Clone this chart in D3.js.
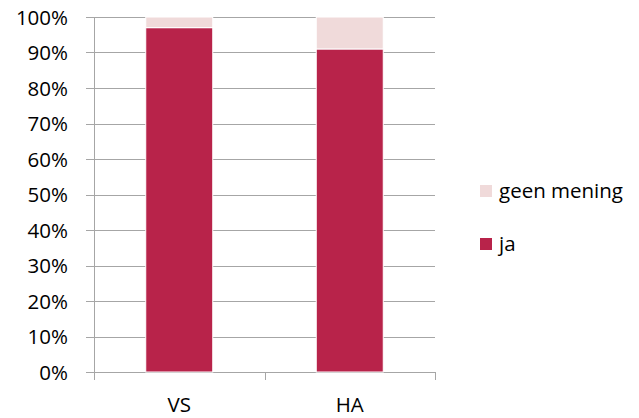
<!DOCTYPE html>
<html><head><meta charset="utf-8">
<script src="https://cdn.jsdelivr.net/npm/d3@7"></script>
<style>body{margin:0;background:#fff}svg{display:block}text{font-family:"Open Sans",sans-serif;fill:#000}</style>
</head><body><svg id="c" width="639" height="418"></svg>
<script>
const categories = ["VS", "HA"];
const ja = [97, 91];
const geenMening = [3, 9];
const yTicks = [0, 10, 20, 30, 40, 50, 60, 70, 80, 90, 100];
const seriesNames = ["ja", "geen mening"];
const colors = {"ja": "#B8234A", "geen mening": "#F0DADA"};

const svg = d3.select("#c");
const pLeft = 94, pRight = 435, pTop = 17, pBottom = 372;
const fs = 20.5;
const x = d3.scaleBand().domain(categories).range([pLeft, pRight]).paddingInner(0.607).paddingOuter(0.3035);
const y = d3.scaleLinear().domain([0, 100]).range([pBottom, pTop]);

// gridlines
svg.append("g").selectAll("line").data(yTicks).join("line")
  .attr("x1", pLeft - 8).attr("x2", pRight)
  .attr("y1", d => Math.round(y(d)) + 0.5).attr("y2", d => Math.round(y(d)) + 0.5)
  .attr("stroke", "#A6A6A6").attr("stroke-width", 1);

svg.append("g").selectAll("text").data(yTicks).join("text")
  .attr("x", 68).attr("y", d => y(d) + 7.5)
  .attr("text-anchor", "end").attr("font-size", fs)
  .text(d => d + "%");

// x axis vertical ticks
const edges = [pLeft, (pLeft + pRight) / 2, pRight];
svg.append("g").selectAll("line").data(edges).join("line")
  .attr("x1", d => Math.round(d) + 0.5).attr("x2", d => Math.round(d) + 0.5)
  .attr("y1", pBottom).attr("y2", pBottom + 8)
  .attr("stroke", "#A6A6A6");
svg.append("line").attr("x1", pLeft + 0.5).attr("x2", pLeft + 0.5).attr("y1", pTop).attr("y2", pBottom).attr("stroke", "#A6A6A6");

// stacked bars
const data = categories.map((c, i) => ({cat: c, "ja": ja[i], "geen mening": geenMening[i]}));
const stack = d3.stack().keys(seriesNames)(data);
svg.append("g").selectAll("g").data(stack).join("g")
  .attr("fill", s => colors[s.key])
  .selectAll("rect").data(s => s).join("rect")
  .attr("x", d => x(d.data.cat)).attr("width", x.bandwidth())
  .attr("y", d => y(d[1])).attr("height", d => y(d[0]) - y(d[1]))
  .attr("stroke", "#fff").attr("stroke-width", 1);

svg.append("g").selectAll("text").data(categories).join("text")
  .attr("x", d => x(d) + x.bandwidth() / 2).attr("y", 412)
  .attr("text-anchor", "middle").attr("font-size", fs).text(d => d);

// legend
const legendItems = ["geen mening", "ja"];
const lg = svg.append("g").selectAll("g").data(legendItems).join("g")
  .attr("transform", (d, i) => `translate(480, ${185 + i * 53})`);
lg.append("rect").attr("width", 12).attr("height", 12).attr("fill", d => colors[d]);
lg.append("text").attr("x", 19).attr("y", 13).attr("font-size", fs).text(d => d);
</script></body></html>
